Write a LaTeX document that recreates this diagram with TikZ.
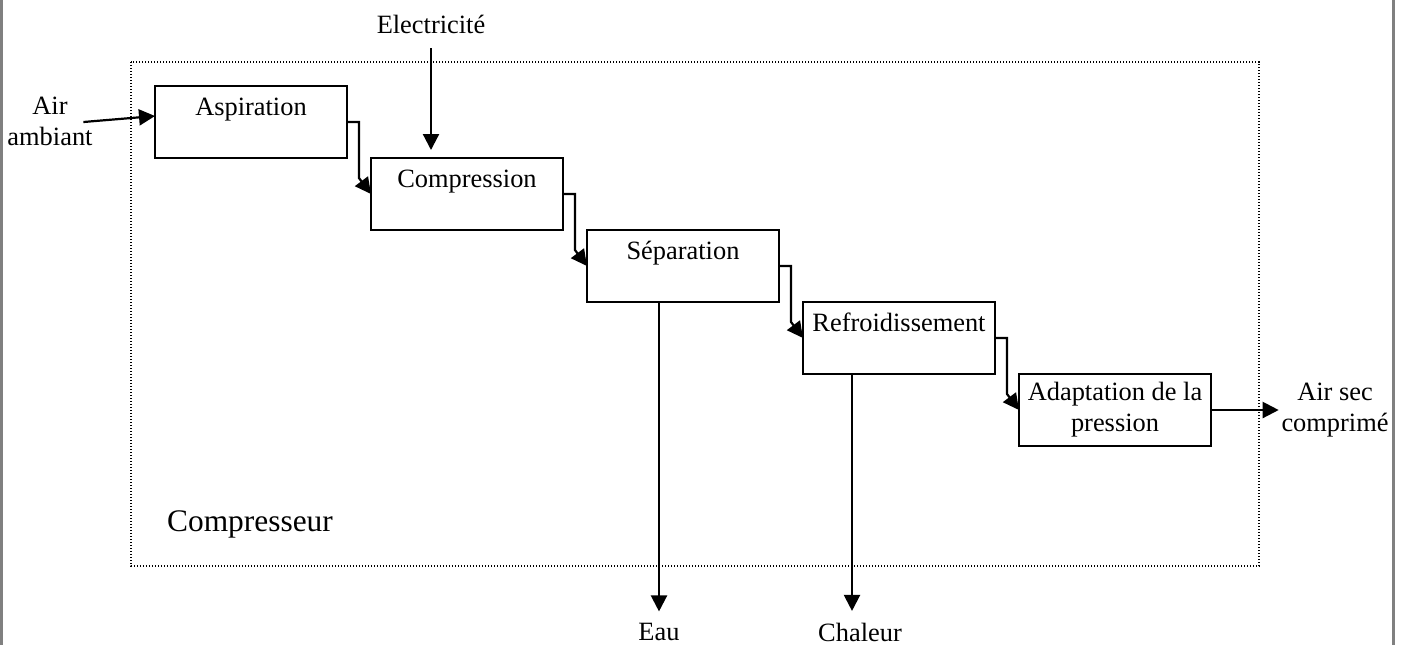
\documentclass[tikz,border=0pt]{standalone}
\usepackage{fontspec}
\setmainfont{Liberation Serif}
\usetikzlibrary{positioning, arrows.meta}

\begin{document}
\begin{tikzpicture}[node distance={0pt and 12pt}, thick,
    every node/.style = {font=\fontsize{13.2pt}{15.5pt}\selectfont},
    stage/.style = {draw, line width=1.1pt, rectangle, minimum width=96pt, minimum height=36pt, align=center, inner sep=0pt, outer sep=0pt},
    lbl/.style = {align=center, inner sep=1pt},
    flow/.style = {line width=1.1pt, -{Triangle[length=8pt, width=8pt]}}]
    \useasboundingbox (0,0) rectangle (703pt,-322.5pt);
    \draw[gray, line width=1.5pt] (0.75pt,0) -- (0.75pt,-322.5pt);
    \draw[gray, line width=1.5pt] (696.5pt,0) -- (696.5pt,-322.5pt);
    \draw[line width=0.6pt, dash pattern=on 0.6pt off 0.9pt] (65.5pt,-31pt) rectangle (629.5pt,-283pt);

    \node[stage, anchor=north west] (asp) at (77.5pt,-43pt) {Aspiration\\~};
    \node[stage] (comp) [below right=of asp] {Compression\\~};
    \node[stage] (sep) [below right=of comp] {Séparation\\~};
    \node[stage] (refr) [below right=of sep] {Refroidissement\\~};
    \node[stage] (adapt) [below right=of refr] {Adaptation de la\\pression};

    \node[lbl] (air) at (25pt,-60.5pt) {Air\\ambiant};
    \node[lbl] (elec) at (215.5pt,-12pt) {Electricité};
    \node[lbl] (eau) at (329.5pt,-316pt) {Eau};
    \node[lbl] (chal) at (430pt,-316pt) {Chaleur};
    \node[lbl] (airsec) at (667.5pt,-205pt) {Air sec\\comprimé};
    \node[font=\fontsize{15.7pt}{18pt}\selectfont] (cmp) at (125pt,-262pt) {Compresseur};
    \coordinate (heat) at ([xshift=24.5pt]refr.south west);

    \draw[flow, shorten <=-6pt] (air.east) -- ([yshift=3pt]asp.west);
    \draw[flow, shorten <=6pt, shorten >=4pt] (elec.south) -- (elec.south |- comp.north);
    \draw[flow] (asp.east) -| ++(6pt,-28pt) -- (comp.west);
    \draw[flow] (comp.east) -| ++(6pt,-28pt) -- (sep.west);
    \draw[flow] (sep.east) -| ++(6pt,-28pt) -- (refr.west);
    \draw[flow] (refr.east) -| ++(6pt,-28pt) -- (adapt.west);
    \draw[flow, shorten >=4.5pt] (sep.south -| eau) -- (eau.north);
    \draw[flow, shorten >=4.5pt] (heat) -- (heat |- chal.north);
    \draw[flow] (adapt.east) -- (adapt.east -| airsec.west);
\end{tikzpicture}
\end{document}
